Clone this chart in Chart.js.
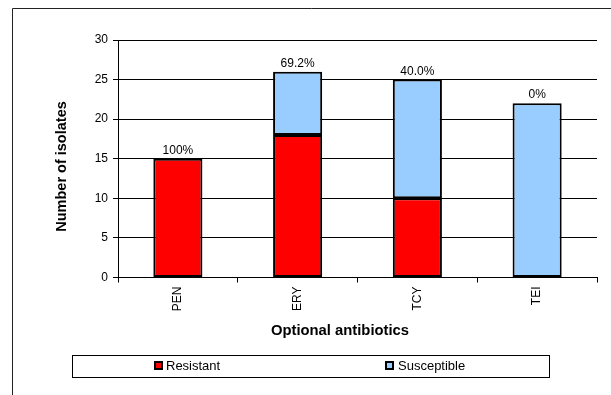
<!DOCTYPE html>
<html>
<head>
<meta charset="utf-8">
<script src="https://cdn.jsdelivr.net/npm/chart.js@4/dist/chart.umd.min.js"></script>
<style>
  html, body { margin: 0; padding: 0; background: #fff; }
  #wrap { width: 611px; height: 395px; position: relative; }
</style>
</head>
<body>
<div id="wrap"><canvas id="c" width="611" height="395"></canvas></div>
<script>
const categories = ['PEN', 'ERY', 'TCY', 'TEI'];
const resistant = [15, 18, 10, 0];
const susceptible = [0, 8, 15, 22];
const percentLabels = ['100%', '69.2%', '40.0%', '0%'];
const yTicks = [0, 5, 10, 15, 20, 25, 30];
const xTitle = 'Optional antibiotics';
const yTitle = 'Number of isolates';

const FONT = '"Liberation Sans", Arial, sans-serif';

const decorPlugin = {
  id: 'decor',
  beforeDraw(chart) {
    const ctx = chart.ctx;
    ctx.save();
    ctx.fillStyle = '#fff';
    ctx.fillRect(0, 0, chart.width, chart.height);
    ctx.strokeStyle = '#222';
    ctx.lineWidth = 1;
    ctx.beginPath();
    ctx.moveTo(12.5, 395);
    ctx.lineTo(12.5, 8.5);
    ctx.lineTo(611, 8.5);
    ctx.stroke();
    ctx.restore();
  },
  afterDatasetsDraw(chart) {
    const ctx = chart.ctx;
    const y = chart.scales.y;
    const meta = chart.getDatasetMeta(0);
    ctx.save();
    ctx.fillStyle = '#000';
    ctx.font = '12px ' + FONT;
    ctx.textAlign = 'center';
    ctx.textBaseline = 'alphabetic';
    categories.forEach((c, i) => {
      const total = resistant[i] + susceptible[i];
      const px = meta.data[i].x;
      const py = y.getPixelForValue(total);
      ctx.fillText(percentLabels[i], px, py - 5);
    });
    ctx.restore();
  },
  afterDraw(chart) {
    const ctx = chart.ctx;
    ctx.save();
    ctx.fillStyle = '#000';
    // axis titles
    ctx.font = 'bold 14.8px ' + FONT;
    ctx.textAlign = 'center';
    ctx.textBaseline = 'alphabetic';
    ctx.fillText(xTitle, 340, 335);
    ctx.save();
    ctx.translate(65.5, 166.5);
    ctx.rotate(-Math.PI / 2);
    ctx.font = 'bold 14.5px ' + FONT;
    ctx.fillText(yTitle, 0, 0);
    ctx.restore();
    // legend
    ctx.strokeStyle = '#000';
    ctx.lineWidth = 1;
    ctx.strokeRect(72.5, 355.5, 477, 22);
    const items = [
      { ds: chart.data.datasets[0], mx: 154, tx: 166 },
      { ds: chart.data.datasets[1], mx: 385, tx: 398 }
    ];
    ctx.font = '13px ' + FONT;
    ctx.textAlign = 'left';
    ctx.textBaseline = 'middle';
    items.forEach(it => {
      ctx.fillStyle = '#000';
      ctx.fillRect(it.mx, 361, 9, 9);
      ctx.fillStyle = it.ds.backgroundColor;
      ctx.fillRect(it.mx + 2, 363, 5, 5);
      ctx.fillStyle = '#000';
      ctx.fillText(it.ds.label, it.tx, 366.5);
    });
    ctx.restore();
  }
};

new Chart(document.getElementById('c'), {
  type: 'bar',
  data: {
    labels: categories,
    datasets: [
      { label: 'Resistant', data: resistant, backgroundColor: '#FF0000', borderColor: '#000', borderWidth: 2, borderSkipped: false },
      { label: 'Susceptible', data: susceptible, backgroundColor: '#99CCFF', borderColor: '#000', borderWidth: 2, borderSkipped: false }
    ]
  },
  options: {
    responsive: false,
    animation: false,
    devicePixelRatio: 1,
    layout: { padding: { left: 0, right: 14, top: 40, bottom: 57.5 } },
    datasets: { bar: { categoryPercentage: 1, barPercentage: 0.41 } },
    plugins: { legend: { display: false }, tooltip: { enabled: false } },
    scales: {
      x: {
        stacked: true,
        offset: true,
        afterFit(s) { s.height = 60; },
        grid: { offset: true, drawOnChartArea: false, drawTicks: true, tickLength: 5, color: '#000', lineWidth: 1 },
        border: { display: true, color: '#000', width: 1 },
        ticks: { minRotation: 90, maxRotation: 90, padding: 4, color: '#000', font: { family: FONT, size: 12 } }
      },
      y: {
        stacked: true,
        min: 0,
        max: 30,
        afterFit(s) { s.width = 118; },
        afterBuildTicks(s) { s.ticks = yTicks.map(v => ({ value: v })); },
        grid: { drawOnChartArea: true, drawTicks: true, tickLength: 5, color: '#000', lineWidth: 1 },
        border: { display: true, color: '#000', width: 1 },
        ticks: { padding: 5, color: '#000', font: { family: FONT, size: 12 } }
      }
    }
  },
  plugins: [decorPlugin]
});
</script>
</body>
</html>
